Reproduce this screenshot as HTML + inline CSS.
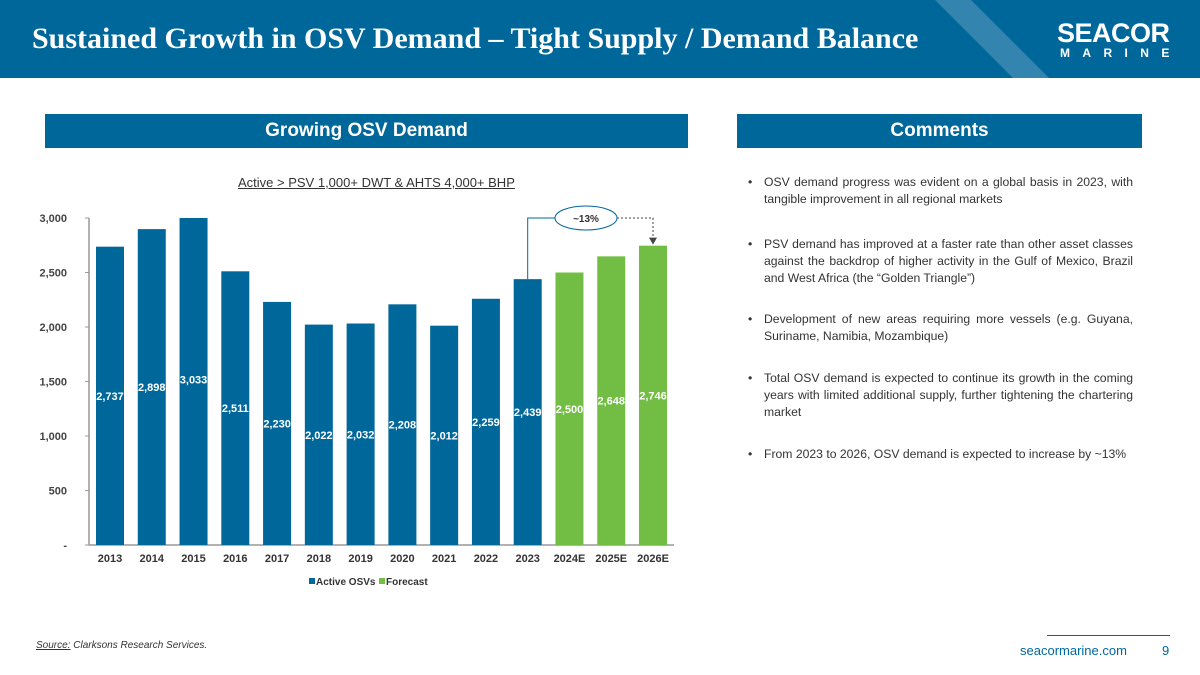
<!DOCTYPE html>
<html><head><meta charset="utf-8"><style>
body{margin:0;width:1200px;height:675px;background:#fff;font-family:"Liberation Sans",sans-serif;position:relative;overflow:hidden}
.hdr{position:absolute;left:0;top:0;width:1200px;height:78px;background:#00679b;overflow:hidden}
.abs{position:absolute}
.cm{position:absolute;left:748px;width:385px;display:flex;font-size:12.2px;color:#333;line-height:17px;text-align:justify}
.cm span:first-child{width:16px;flex:none}
</style></head><body>
<div class="hdr">
<div class="abs" style="left:975px;top:-10px;width:36px;height:100px;background:rgba(255,255,255,0.2);transform:skewX(45deg)"></div>
<div class="abs" style="left:32px;top:22px;font-family:'Liberation Serif',serif;font-weight:bold;font-size:30px;color:#fff">Sustained Growth in OSV Demand – Tight Supply / Demand Balance</div>
<div class="abs" style="left:1057px;top:18px;font-weight:bold;font-size:27px;color:#fff;letter-spacing:-0.5px">SEACOR</div>
<div class="abs" style="left:1060px;top:46px;font-weight:bold;font-size:12px;color:#fff;letter-spacing:12.4px">MARINE</div>
</div>
<div class="abs" style="left:45px;top:114px;width:643px;height:34px;background:#00679b;color:#fff;font-weight:bold;font-size:19px;text-align:center;line-height:34px">Growing OSV Demand</div>
<div class="abs" style="left:737px;top:114px;width:405px;height:34px;background:#00679b;color:#fff;font-weight:bold;font-size:19px;text-align:center;line-height:34px">Comments</div>
<div class="abs" style="left:238px;top:175px;font-size:13px;color:#333;text-decoration:underline">Active &gt; PSV 1,000+ DWT &amp; AHTS 4,000+ BHP</div>
<svg id="chart" class="abs" style="left:0;top:0" width="700" height="600"></svg>
<div class="cm" style="top:174px"><span>•</span><span>OSV demand progress was evident on a global basis in 2023, with tangible improvement in all regional markets</span></div>
<div class="cm" style="top:236px"><span>•</span><span>PSV demand has improved at a faster rate than other asset classes against the backdrop of higher activity in the Gulf of Mexico, Brazil and West Africa (the “Golden Triangle”)</span></div>
<div class="cm" style="top:311px"><span>•</span><span>Development of new areas requiring more vessels (e.g. Guyana, Suriname, Namibia, Mozambique)</span></div>
<div class="cm" style="top:370px"><span>•</span><span>Total OSV demand is expected to continue its growth in the coming years with limited additional supply, further tightening the chartering market</span></div>
<div class="cm" style="top:446px"><span>•</span><span>From 2023 to 2026, OSV demand is expected to increase by ~13%</span></div>
<div class="abs" style="left:36px;top:640px;font-size:10px;font-style:italic;color:#333"><span style="text-decoration:underline">Source:</span> Clarksons Research Services.</div>
<div class="abs" style="left:1047px;top:635px;width:123px;height:1px;background:#00679b"></div>
<div class="abs" style="left:1020px;top:643px;font-size:13px;color:#00679b">seacormarine.com</div>
<div class="abs" style="left:1162px;top:643px;font-size:13px;color:#00679b">9</div>
<script>
const categories=["2013","2014","2015","2016","2017","2018","2019","2020","2021","2022","2023","2024E","2025E","2026E"];
const values=[2737,2898,3033,2511,2230,2022,2032,2208,2012,2259,2439,2500,2648,2746];
const isForecast=[0,0,0,0,0,0,0,0,0,0,0,1,1,1];
const yTicks=[0,500,1000,1500,2000,2500,3000];
const yTickLabels=["-","500","1,000","1,500","2,000","2,500","3,000"];
const svg=document.getElementById('chart');const NS='http://www.w3.org/2000/svg';
const y0=545,yTop=218,yMax=3000,x0=110,step=41.77,bw=28;
const y=v=>y0-Math.min(v,yMax)/yMax*(y0-yTop);
const yl=v=>y0-v/yMax*(y0-yTop);
const x=i=>x0+i*step;
function mk(t,a){const e=document.createElementNS(NS,t);for(const k in a)e.setAttribute(k,a[k]);svg.appendChild(e);return e;}
let e=mk('line',{x1:89,y1:218,x2:89,y2:545,stroke:'#999','stroke-width':1.5});

e=mk('line',{x1:89,y1:545,x2:674,y2:545,stroke:'#999','stroke-width':1.5});

yTicks.forEach((t,i)=>{
 mk('line',{x1:85,x2:89,y1:y(t),y2:y(t),stroke:'#999'});
 const tx=mk('text',{x:67,y:y(t)+4,'text-anchor':'end','font-size':11,'font-weight':'bold',fill:'#444'});tx.textContent=yTickLabels[i];
 
});
categories.forEach((c,i)=>{
 const r=mk('rect',{x:x(i)-bw/2,y:y(values[i]),width:bw,height:y0-y(values[i]),fill:isForecast[i]?'#72bd44':'#00679b'});
 
 const l=mk('text',{x:x(i),y:(y0+yl(values[i]))/2+4,'text-anchor':'middle','font-size':11,'font-weight':'bold',fill:'#fff'});l.textContent=values[i].toLocaleString('en-US');
 
 const t=mk('text',{x:x(i),y:562,'text-anchor':'middle','font-size':11,'font-weight':'bold',fill:'#333'});t.textContent=c;
 
});
const i0=10,i1=13;
e=mk('polyline',{points:`${x(i0)},${y(values[i0])} ${x(i0)},218 555,218`,fill:'none',stroke:'#00679b','stroke-width':1});

e=mk('polyline',{points:`617,218 ${x(i1)},218 ${x(i1)},${y(values[i1])-8}`,fill:'none',stroke:'#444','stroke-width':1,'stroke-dasharray':'2,2'});

e=mk('polygon',{points:`${x(i1)-4},${y(values[i1])-8} ${x(i1)+4},${y(values[i1])-8} ${x(i1)},${y(values[i1])-1}`,fill:'#444'});

e=mk('ellipse',{cx:586,cy:218,rx:31,ry:12,fill:'#fff',stroke:'#00679b'});

e=mk('text',{x:586,y:222,'text-anchor':'middle','font-size':10,'font-weight':'bold',fill:'#333'});e.textContent='~13%';

e=mk('rect',{x:309,y:578,width:6,height:6,fill:'#00679b'});
e=mk('text',{x:316,y:585,'font-size':10,'font-weight':'bold',fill:'#333'});e.textContent='Active OSVs';
e=mk('rect',{x:379,y:578,width:6,height:6,fill:'#72bd44'});
e=mk('text',{x:386,y:585,'font-size':10,'font-weight':'bold',fill:'#333'});e.textContent='Forecast';
</script>
</body></html>
